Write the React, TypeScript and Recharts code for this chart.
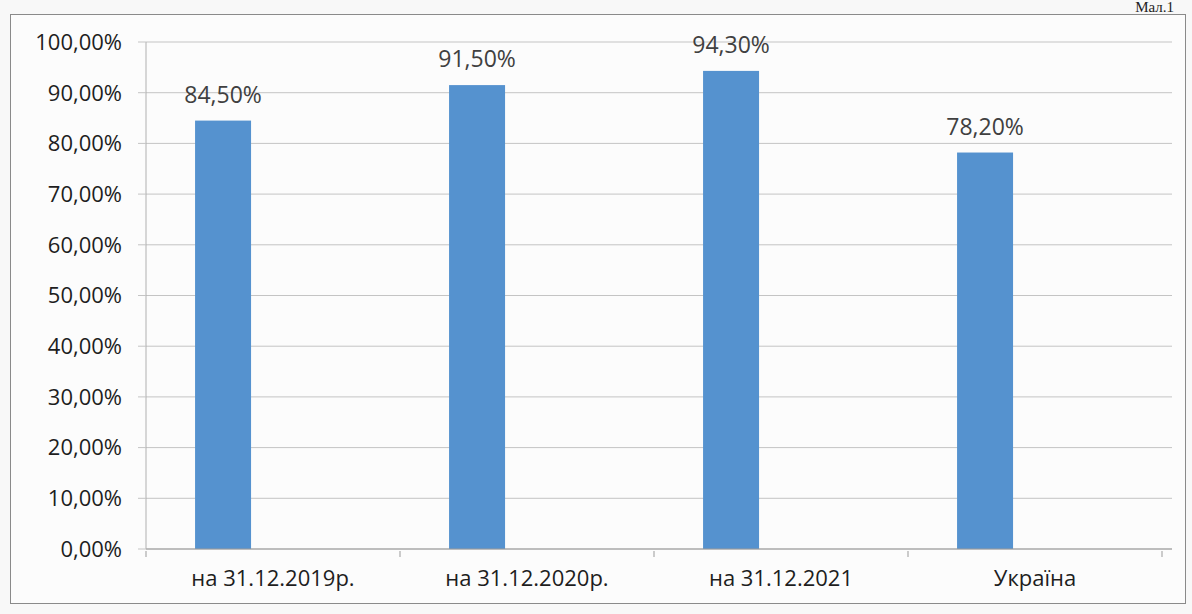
import { BarChart, Bar, XAxis, YAxis, CartesianGrid, LabelList } from 'recharts';

const categories = ['на 31.12.2019р.', 'на 31.12.2020р.', 'на 31.12.2021', 'Україна'];
const shares = [84.5, 91.5, 94.3, 78.2];
const yTicks = [0, 10, 20, 30, 40, 50, 60, 70, 80, 90, 100];

const data = categories.map((name, i) => ({ name, value: shares[i] }));

const FONT = '"Open Sans", "Noto Sans", sans-serif';
const BAR_COLOR = '#5592cf';
// in the scan the columns sit a bit left of their category labels
const BAR_SHIFT = -50;
const fmt = (v: number) => v.toFixed(2).replace('.', ',') + '%';

function CategoryTick(props: any) {
  const { x, y, payload, index } = props;
  const half = payload?.offset ?? 0;
  return (
    <g>
      <line x1={x - half} y1={y - 6} x2={x - half} y2={y} stroke="#9a9a9a" />
      {index === categories.length - 1 && (
        <line x1={x + half} y1={y - 6} x2={x + half} y2={y} stroke="#9a9a9a" />
      )}
      <text x={x} y={y + 29} textAnchor="middle" fill="#1e1e1e" fontSize={22} fontFamily={FONT}>
        {payload.value}
      </text>
    </g>
  );
}

function ShiftedBar(props: any) {
  const { x, y, width, height } = props;
  return <rect x={x + BAR_SHIFT} y={y} width={width} height={height} fill={BAR_COLOR} />;
}

function ValueLabel(props: any) {
  const { x, y, width, value } = props;
  return (
    <text x={x + width / 2 + BAR_SHIFT} y={y - 18} textAnchor="middle" fill="#404040" fontSize={23} fontFamily={FONT}>
      {fmt(Number(value))}
    </text>
  );
}

export default function App() {
  return (
    <div style={{ position: 'absolute', left: 0, top: 0, width: 1192, height: 614, background: '#f8f8f8', overflow: 'hidden' }}>
      <div
        style={{
          position: 'absolute',
          left: 10,
          top: 14,
          width: 1174,
          height: 588,
          border: '1.5px solid #8a8a8a',
          background: '#fcfcfc',
        }}
      />
      <div style={{ position: 'absolute', right: 18, top: 0, lineHeight: 1, fontFamily: '"Liberation Serif", serif', fontSize: 15, color: '#222' }}>
        Мал.1
      </div>
      <div style={{ position: 'absolute', left: 0, top: 0 }}>
        <BarChart width={1192} height={614} data={data} margin={{ top: 42, right: 20, bottom: 35, left: 0 }} barCategoryGap="39%">
          <CartesianGrid vertical={false} stroke="#c4c4c4" />
          <XAxis
            dataKey="name"
            axisLine={{ stroke: '#9a9a9a' }}
            tickLine={false}
            tick={<CategoryTick />}
            interval={0}
            padding={{ left: 0, right: 10 }}
          />
          <YAxis
            width={146}
            domain={[0, 100]}
            ticks={yTicks}
            tickFormatter={fmt}
            axisLine={{ stroke: '#b0b0b0' }}
            tickLine={{ stroke: '#c4c4c4' }}
            tickSize={8}
            tickMargin={16}
            tick={{ fill: '#1e1e1e', fontSize: 22, fontFamily: FONT }}
          />
          <Bar dataKey="value" fill={BAR_COLOR} shape={<ShiftedBar />} isAnimationActive={false}>
            <LabelList dataKey="value" content={<ValueLabel />} />
          </Bar>
        </BarChart>
      </div>
    </div>
  );
}
